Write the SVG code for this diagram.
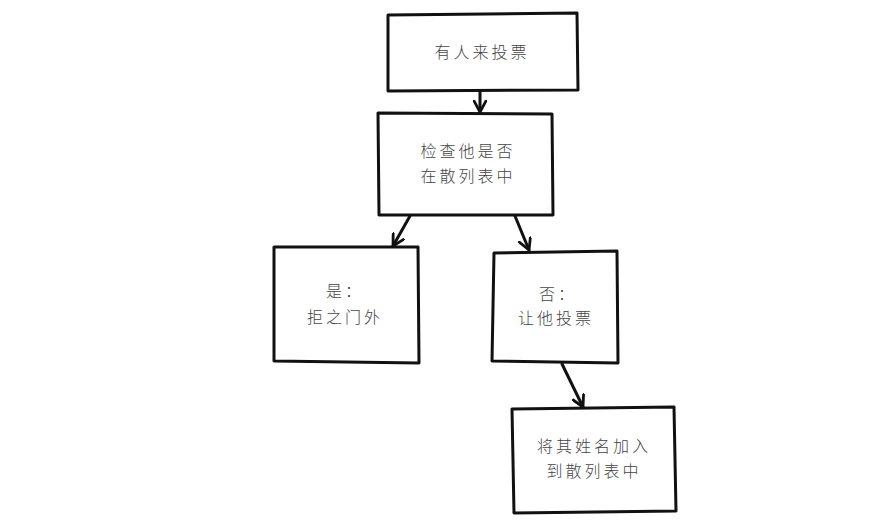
<svg xmlns="http://www.w3.org/2000/svg" width="890" height="521" viewBox="0 0 890 521">
<defs>
<marker id="ah" viewBox="0 0 14 14" refX="12" refY="7" markerWidth="14" markerHeight="14" markerUnits="userSpaceOnUse" orient="auto">
<path d="M1,1 L12,7 L1,13" fill="none" stroke="#111" stroke-width="2.8" stroke-linecap="round" stroke-linejoin="round"/>
</marker>
<style>
.box{fill:#fff;stroke:#111;stroke-width:3;stroke-linejoin:round}
.t{font-family:"Noto Sans CJK SC","Noto Sans",sans-serif;font-size:16px;fill:#444;text-anchor:middle;font-weight:300;letter-spacing:3px}
.c{fill:none;stroke:#111;stroke-width:3;stroke-linecap:round}
</style>
</defs>
<rect width="890" height="521" fill="#fff"/>
<g id="connectors">
<path class="c" d="M480,91 L480,112" marker-end="url(#ah)"/>
<path class="c" d="M410,216 L393,246" marker-end="url(#ah)"/>
<path class="c" d="M515,216 L529,250" marker-end="url(#ah)"/>
<path class="c" d="M562,364 L583,407" marker-end="url(#ah)"/>
</g>
<g id="n1">
<path class="box" d="M388,15 L577,13 L578,90 L388,91 Z"/>
<text class="t" x="482" y="58">有人来投票</text>
</g>
<g id="n2">
<path class="box" d="M378,113 L552,114 L553,215 L379,215 Z"/>
<text class="t" x="468" y="157">检查他是否</text>
<text class="t" x="468" y="182">在散列表中</text>
</g>
<g id="n3">
<path class="box" d="M274,247 L418,247 L419,363 L274,361 Z"/>
<text class="t" x="345" y="297">是：</text>
<text class="t" x="345" y="323">拒之门外</text>
</g>
<g id="n4">
<path class="box" d="M494,253 L617,251 L618,363 L492,361 Z"/>
<text class="t" x="558" y="300">否：</text>
<text class="t" x="556" y="324">让他投票</text>
</g>
<g id="n5">
<path class="box" d="M512,409 L674,407 L676,511 L514,513 Z"/>
<text class="t" x="594" y="452">将其姓名加入</text>
<text class="t" x="594" y="477">到散列表中</text>
</g>
</svg>
